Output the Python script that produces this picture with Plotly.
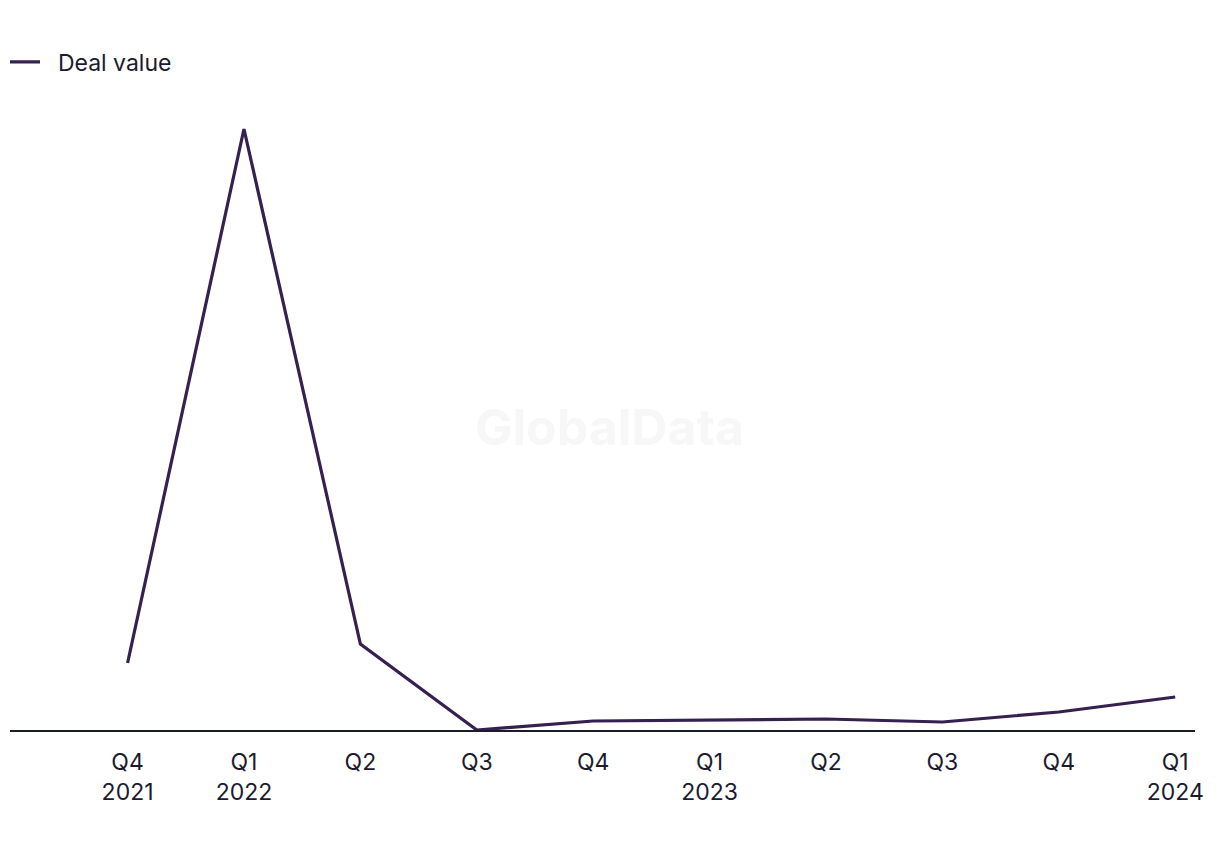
import plotly.graph_objects as go

quarters = ["Q4<br>2021", "Q1<br>2022", "Q2", "Q3", "Q4", "Q1<br>2023", "Q2", "Q3", "Q4", "Q1<br>2024"]
categories = list(range(len(quarters)))
deal_value = [67, 601, 86, 0, 9, 10, 11, 8, 18, 33]
series_name = "Deal value"

fig = go.Figure()
fig.add_trace(go.Scatter(
    x=categories, y=deal_value, mode="lines", name="\u00a0\u00a0" + series_name,
    line=dict(color="#35204f", width=3.2), cliponaxis=False,
))

fig.add_annotation(
    text="<b>GlobalData</b>", x=0.506, y=0.481, xref="paper", yref="paper",
    showarrow=False, font=dict(size=50, color="#f7f7f7", family="Inter"),
)

fig.update_layout(
    width=1220, height=850,
    paper_bgcolor="white", plot_bgcolor="white",
    margin=dict(l=10, r=25, t=100, b=120),
    font=dict(family="Inter", size=22, color="#1b1b2e"),
    showlegend=True,
    legend=dict(
        x=5 / 1220, y=1 - 62 / 850, xref="container", yref="container",
        yanchor="middle", xanchor="left", orientation="h",
        font=dict(size=23, color="#1b1b2e"), bgcolor="rgba(0,0,0,0)",
    ),
    xaxis=dict(
        tickmode="array", tickvals=categories, ticktext=quarters,
        range=[-1.01, 9.17], showgrid=False, zeroline=False,
        showline=True, linecolor="#1b1b2e", linewidth=2,
        ticks="", ticklabelstandoff=10, tickfont=dict(size=23),
    ),
    yaxis=dict(
        range=[0, 630], showgrid=False, zeroline=False,
        showticklabels=False, showline=False,
    ),
)
fig.write_html("out.html")
